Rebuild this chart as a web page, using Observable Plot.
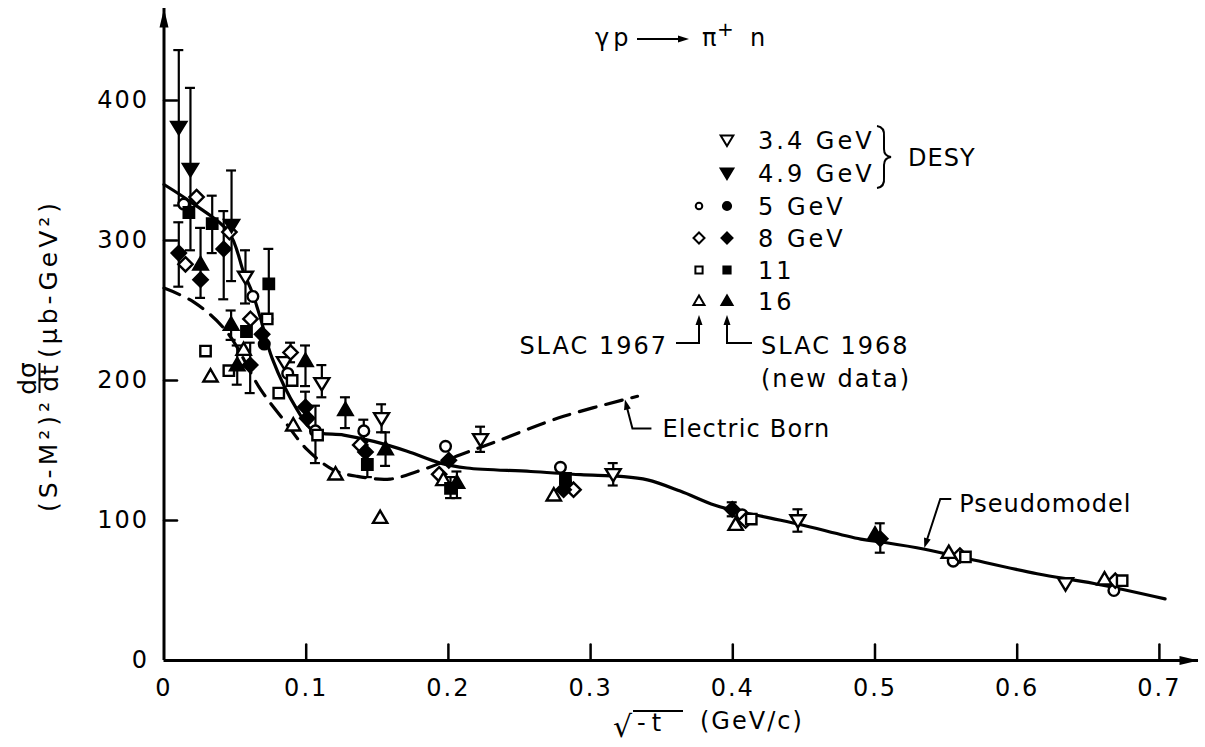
<!DOCTYPE html>
<html>
<head>
<meta charset="utf-8">
<script src="https://cdn.jsdelivr.net/npm/d3@7"></script>
<script src="https://cdn.jsdelivr.net/npm/@observablehq/plot@0.6"></script>
<style>
  html, body { margin: 0; padding: 0; background: #fff; }
  #chart svg { display: block; }
  #chart svg text { letter-spacing: 2px; }
</style>
</head>
<body>
<div id="chart"></div>
<script>
// ---------------- data ----------------
const xTicks = [0, 0.1, 0.2, 0.3, 0.4, 0.5, 0.6, 0.7];
const xTickLabels = ["0", "0.1", "0.2", "0.3", "0.4", "0.5", "0.6", "0.7"];
const yTicks = [0, 100, 200, 300, 400];
const yTickLabels = ["0", "100", "200", "300", "400"];

// point: [sqrt(-t), (S-M^2)^2 dsigma/dt, error low, error high]
const desy34 = [
  [0.0573, 274, 255, 293], [0.0847, 213], [0.111, 198, 188, 211], [0.153, 173, 163, 183],
  [0.2226, 158, 149, 167], [0.3159, 133, 125, 141], [0.4458, 100, 92, 108], [0.634, 55]
];
const desy49 = [
  [0.0104, 381, 325, 436], [0.0186, 351, 293, 409], [0.0475, 311, 271, 350]
];
const slac67_5 = [
  [0.0139, 326], [0.0625, 260], [0.087, 205], [0.1065, 164, 141, 182], [0.1405, 164, 156, 172],
  [0.198, 153], [0.2788, 138], [0.4066, 104], [0.555, 71], [0.668, 50]
];
const slac68_5 = [[0.0705, 226], [0.2825, 127]];
const slac67_8 = [
  [0.0229, 331], [0.0151, 283], [0.046, 306], [0.0608, 244], [0.089, 220, 213, 227],
  [0.138, 154], [0.1935, 133], [0.288, 122], [0.409, 100], [0.5597, 75], [0.669, 57]
];
const slac68_8 = [
  [0.0104, 291, 267, 313], [0.0257, 272], [0.042, 294, 258, 321], [0.069, 233],
  [0.0606, 211, 191, 227], [0.0995, 181, 174, 192], [0.1007, 173], [0.1417, 149],
  [0.2003, 143], [0.281, 122], [0.3996, 108, 103, 113], [0.5037, 87, 77, 98]
];
const slac67_11 = [
  [0.0726, 244], [0.0292, 221], [0.0456, 207], [0.0807, 191], [0.0901, 200],
  [0.108, 161], [0.413, 101], [0.5636, 74], [0.6738, 57]
];
const slac68_11 = [
  [0.0175, 320], [0.0339, 312, 291, 332], [0.0737, 269, 244, 294], [0.058, 235],
  [0.143, 140, 131, 149], [0.2015, 123, 116, 131], [0.2823, 130]
];
const slac67_16 = [
  [0.0327, 203], [0.056, 222], [0.0909, 168], [0.1206, 133], [0.152, 102],
  [0.1965, 129], [0.2741, 118], [0.402, 97], [0.5519, 77], [0.6614, 58]
];
const slac68_16 = [
  [0.0257, 283, 259, 309], [0.0472, 240, 229, 250], [0.0515, 211, 197, 225],
  [0.0995, 214, 196, 225], [0.1276, 179, 166, 188], [0.1558, 151, 139, 163],
  [0.206, 127, 116, 135], [0.5, 90]
];

// Pseudomodel curve (solid)
const pseudoX = [0, 0.021, 0.0456, 0.0561, 0.062, 0.068, 0.076, 0.0937, 0.105, 0.1264, 0.1475, 0.171, 0.1944, 0.213, 0.258, 0.293, 0.321, 0.34, 0.363, 0.387, 0.4, 0.4265, 0.448, 0.49, 0.507, 0.535, 0.564, 0.614, 0.654, 0.704];
const pseudoY = [340, 326, 306, 277, 263, 244, 216, 179, 164, 161, 156.5, 149.5, 141, 137.5, 135, 132.7, 131.5, 129, 121, 111, 107.5, 101.7, 97, 86.7, 84.3, 79.5, 73, 62, 55, 44];
// Electric Born curve (dashed)
const bornX = [0, 0.021, 0.044, 0.068, 0.084, 0.1007, 0.1194, 0.136, 0.159, 0.178, 0.197, 0.206, 0.23, 0.281, 0.333];
const bornY = [266, 256, 235, 193.5, 172, 150.6, 136, 131.5, 129.6, 135, 142, 146, 155, 174.4, 188.7];

const legendLabels = ["3.4 GeV", "4.9 GeV", "5 GeV", "8 GeV", "11", "16"];

// ---------------- symbols ----------------
const rad = s => Math.sqrt(s / Math.PI);
const circ = {draw(c, s) { const r = rad(s) * 0.82; c.moveTo(r, 0); c.arc(0, 0, r, 0, 2 * Math.PI); c.closePath(); }};
const diam = {draw(c, s) { const r = rad(s) * 1.1; c.moveTo(0, -r); c.lineTo(r, 0); c.lineTo(0, r); c.lineTo(-r, 0); c.closePath(); }};
const sq = {draw(c, s) { const r = rad(s) * 0.8; c.moveTo(-r, -r); c.lineTo(r, -r); c.lineTo(r, r); c.lineTo(-r, r); c.closePath(); }};
const triUp = {draw(c, s) { const r = rad(s); c.moveTo(0, -1.1 * r); c.lineTo(1.1 * r, 0.8 * r); c.lineTo(-1.1 * r, 0.8 * r); c.closePath(); }};
const triDown = {draw(c, s) { const r = rad(s); c.moveTo(0, 1.1 * r); c.lineTo(1.15 * r, -0.8 * r); c.lineTo(-1.15 * r, -0.8 * r); c.closePath(); }};
const arrowHead = {draw(c, s) { c.moveTo(0, 0); c.lineTo(4.5, 19); c.lineTo(-4.5, 19); c.closePath(); }};
const tickShape = {draw(c, l) { c.moveTo(0, 0); c.lineTo(0, -l); }};

const seriesSpec = [
  {data: desy34, sym: triDown, fill: "white"},
  {data: slac67_5, sym: circ, fill: "white"},
  {data: slac67_8, sym: diam, fill: "white"},
  {data: slac67_11, sym: sq, fill: "white"},
  {data: slac67_16, sym: triUp, fill: "white"},
  {data: desy49, sym: triDown, fill: "black"},
  {data: slac68_5, sym: circ, fill: "black"},
  {data: slac68_8, sym: diam, fill: "black"},
  {data: slac68_11, sym: sq, fill: "black"},
  {data: slac68_16, sym: triUp, fill: "black"}
];

const allPts = seriesSpec.flatMap(s => s.data);
const errPts = allPts.filter(d => d[2] != null);
const pseudo = pseudoX.map((x, i) => [x, pseudoY[i]]);
const born = bornX.map((x, i) => [x, bornY[i]]);

const xMax = 0.7275, yMax = 465.7;
const FONT = "DejaVu Sans";

const plot = Plot.plot({
  width: 1205, height: 747,
  marginLeft: 163.5, marginRight: 7, marginTop: 8, marginBottom: 87,
  x: {domain: [0, xMax]},
  y: {domain: [0, yMax]},
  style: {background: "white", fontFamily: FONT, fontSize: "24px", color: "black"},
  marks: [
    // axis lines + arrowheads
    Plot.ruleY([0], {strokeWidth: 3}),
    Plot.ruleX([0], {strokeWidth: 3}),
    Plot.dot([[xMax, 0]], {x: d => d[0], y: d => d[1], symbol: arrowHead, r: 5, rotate: 90, fill: "black", stroke: "none"}),
    Plot.dot([[0, yMax]], {x: d => d[0], y: d => d[1], symbol: arrowHead, r: 5, rotate: 0, fill: "black", stroke: "none"}),
    // inward tick marks
    Plot.vector(xTicks.filter(d => d > 0), {x: d => d, y: 0, length: 16, rotate: 0, anchor: "start", shape: tickShape, strokeWidth: 2.5}),
    Plot.vector(yTicks.filter(d => d > 0), {x: 0, y: d => d, length: 13, rotate: 90, anchor: "start", shape: tickShape, strokeWidth: 2.5}),
    // tick labels
    Plot.axisX(xTicks, {tickSize: 0, tickPadding: 18, label: null, fontSize: 24, tickFormat: d => xTickLabels[xTicks.indexOf(d)]}),
    Plot.axisY(yTicks, {tickSize: 0, tickPadding: 15, label: null, fontSize: 24, tickFormat: d => yTickLabels[yTicks.indexOf(d)]}),
    // error bars
    Plot.ruleX(errPts, {x: d => d[0], y1: d => d[2], y2: d => d[3], strokeWidth: 2.2}),
    Plot.ruleY(errPts, {y: d => d[2], x1: d => d[0], x2: d => d[0], insetLeft: -5, insetRight: -5, strokeWidth: 2.2}),
    Plot.ruleY(errPts, {y: d => d[3], x1: d => d[0], x2: d => d[0], insetLeft: -5, insetRight: -5, strokeWidth: 2.2}),
    // curves
    Plot.line(born, {x: d => d[0], y: d => d[1], curve: "catmull-rom", strokeWidth: 3.2, strokeDasharray: "17,10"}),
    Plot.line(pseudo, {x: d => d[0], y: d => d[1], curve: "catmull-rom", strokeWidth: 3.2}),
    // data points
    ...seriesSpec.map(s => Plot.dot(s.data, {x: d => d[0], y: d => d[1], symbol: s.sym, r: 6.5, fill: s.fill, stroke: "black", strokeWidth: 2.4}))
  ]
});

document.getElementById("chart").appendChild(plot);

// ---------------- annotations ----------------
const svg = d3.select(plot);
let sxF, syF;
try { const a = plot.scale("x"), b = plot.scale("y"); sxF = v => a.apply(v); syF = v => b.apply(v); }
catch (e) { sxF = v => 163.5 + v / xMax * (1198 - 163.5); syF = v => 660 - v / yMax * 652; }

const g = svg.append("g").attr("font-family", FONT).attr("fill", "black");

function head(tx, ty, dx, dy, len = 10, half = 3.5) {
  const n = Math.hypot(dx, dy), ux = dx / n, uy = dy / n;
  const bx = tx - ux * len, by = ty - uy * len, px = -uy, py = ux;
  return `M${tx},${ty}L${bx + px * half},${by + py * half}L${bx - px * half},${by - py * half}Z`;
}
function txt(x, y, s, opts = {}) {
  const t = g.append("text").attr("x", x).attr("y", y).attr("dy", opts.dy ?? "0.36em")
    .attr("font-size", opts.size ?? 24).attr("text-anchor", opts.anchor ?? "start").text(s);
  if (opts.ls != null) t.style("letter-spacing", opts.ls + "px");
  return t;
}
const stroke = (d, w = 2) => g.append("path").attr("d", d).attr("fill", "none").attr("stroke", "black").attr("stroke-width", w);
const fillP = d => g.append("path").attr("d", d).attr("fill", "black");

// title  γp ⟶ π+ n
const tb = 46;
txt(595, tb, "γp", {dy: 0, ls: 4});
stroke(`M637,${tb - 7}H682`, 2); fillP(head(689, tb - 7, 1, 0, 11, 3.5));
txt(702, tb, "π", {dy: 0});
txt(717, tb - 10, "+", {dy: 0, size: 20});
txt(750, tb, "n", {dy: 0});

// legend
const rows = [140, 173, 206, 238, 270, 301];
const colOpen = 699, colFill = 727, colText = 758;
const legSym = (x, y, type, fill, r) => g.append("path")
  .attr("transform", `translate(${x},${y})`)
  .attr("d", d3.symbol(type, Math.PI * r * r)())
  .attr("fill", fill).attr("stroke", "black").attr("stroke-width", 2);
legSym(colFill, rows[0], triDown, "white", 5.5);
legSym(colFill, rows[1], triDown, "black", 5.5);
legSym(colOpen, rows[2], circ, "white", 4);
legSym(colFill, rows[2], circ, "black", 5);
legSym(colOpen, rows[3], diam, "white", 5);
legSym(colFill, rows[3], diam, "black", 5);
legSym(colOpen, rows[4], sq, "white", 4.5);
legSym(colFill, rows[4], sq, "black", 4.5);
legSym(colOpen, rows[5], triUp, "white", 5);
legSym(colFill, rows[5], triUp, "black", 5);
legendLabels.forEach((s, i) => txt(colText, rows[i], s, {ls: 3}));
// brace + DESY
stroke("M877,126 Q885,127 884,137 L884,149 Q884,156 891,157 Q884,158 884,165 L884,177 Q885,187 877,188", 2);
txt(908, 157, "DESY", {ls: 1});
// SLAC arrows
txt(668, 345, "SLAC 1967", {anchor: "end"});
stroke(`M676,343H${colOpen}V322`); fillP(head(colOpen, 315, 0, -1, 10, 3.5));
stroke(`M752,343H${colFill}V322`); fillP(head(colFill, 315, 0, -1, 10, 3.5));
txt(761, 345, "SLAC 1968");
txt(761, 378, "(new data)");

// Electric Born label
{
  const tx = sxF(0.3245), ty = syF(186);
  const ex = tx + 7.5, ey = ty + 29;
  stroke(`M${ex + 19},${ey}H${ex}L${tx + 1.5},${ty + 6}`);
  fillP(head(tx, ty, tx - ex, ty - ey, 10, 3.5));
  txt(ex + 30, ey, "Electric Born", {ls: 1.2});
}
// Pseudomodel label
{
  const tx = sxF(0.535), ty = syF(80);
  const ex = tx + 16, ey = ty - 49;
  stroke(`M${ex + 11},${ey}H${ex}L${tx + 2},${ty - 6}`);
  fillP(head(tx, ty, tx - ex, ty - ey, 10, 3.5));
  txt(ex + 19, ey + 4, "Pseudomodel", {ls: 1});
}

// x-axis title  √(-t)  (GeV/c)
txt(613, 737, "√", {dy: 0, size: 30, ls: 0});
stroke("M633,711H683", 2);
txt(637, 731, "-t", {dy: 0, ls: 6});
txt(700, 729, "(GeV/c)", {dy: 0, ls: 2});

// y-axis title (rotated; reads bottom to top)
{
  const yg = g.append("g").attr("transform", "translate(0,378) rotate(-90)");
  const put = (x, y, s, anchor, ls) => yg.append("text").attr("x", x).attr("y", y)
    .attr("font-size", 25).attr("text-anchor", anchor).style("letter-spacing", ls + "px").text(s);
  put(-20, 57, "(S-M²)²", "end", 4);
  put(0, 36, "dσ", "middle", 1);
  put(0, 58, "dt", "middle", 1);
  yg.append("path").attr("d", "M-15,39.5H15").attr("stroke", "black").attr("stroke-width", 2);
  put(20, 57, "(μb-GeV²)", "start", 4);
}
</script>
</body>
</html>
